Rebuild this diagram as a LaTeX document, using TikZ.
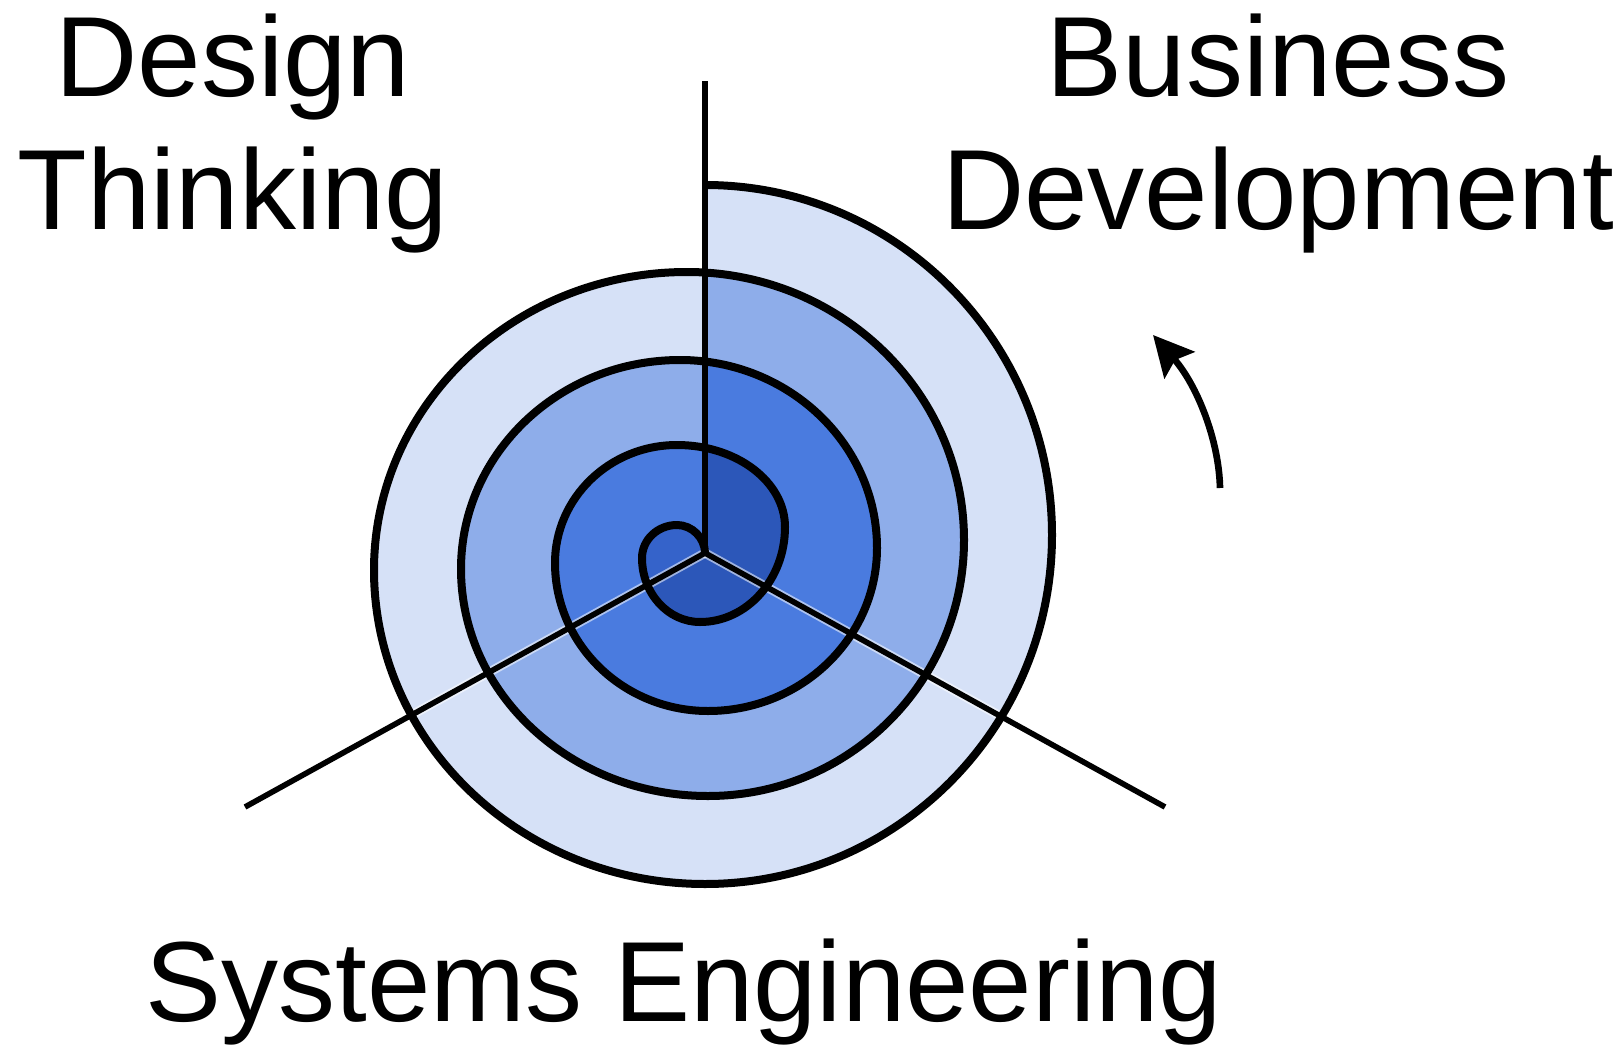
\documentclass[tikz,border=0pt]{standalone}
\usepackage{fontspec}
\setmainfont{Liberation Sans}
\usepackage{tikz}
\usetikzlibrary{arrows.meta}
\definecolor{lapA}{HTML}{D6E1F7}
\definecolor{lapB}{HTML}{8EADEA}
\definecolor{lapC}{HTML}{4A7BDF}
\definecolor{lapD}{HTML}{2C57B9}
\definecolor{lapE}{HTML}{3563CA}

\begin{document}
\begin{tikzpicture}[x=0.75pt,y=0.75pt,yscale=-1,xscale=1,
    spiral/.style={line width=6pt},
    spoke/.style={line width=4.2pt},
    spokehalo/.style={white,opacity=0.55,line width=7pt},
    bigtext/.style={font=\fontsize{85.5}{99.75}\selectfont,inner sep=0.75pt,align=center}]
    %set diagram to the full reference size
    \useasboundingbox (0,0) rectangle (1621,1049);

    \coordinate (hub) at (705,553);
    \coordinate (hubtop) at (705,81);
    \coordinate (leftend) at (245,807);
    \coordinate (rightend) at (1165,807);

    %Lap 4: outer band
    \fill[lapA] (687,272) arc[start angle=270,end angle=180,x radius=313,y radius=298] arc[start angle=180,end angle=90,x radius=331,y radius=314] arc[start angle=90,end angle=0,x radius=347,y radius=349] arc[start angle=360,end angle=270,x radius=347,y radius=350] -- (705,185) -- (705,272) -- cycle;
    %Lap 3
    \fill[lapB] (680,360) arc[start angle=270,end angle=180,x radius=219,y radius=209] arc[start angle=180,end angle=90,x radius=247,y radius=227] arc[start angle=90,end angle=0,x radius=256,y radius=256] arc[start angle=360,end angle=270,x radius=277,y radius=268] -- (705,272) -- (705,360) -- cycle;
    %Lap 2
    \fill[lapC] (677,445) arc[start angle=270,end angle=180,x radius=122,y radius=118] arc[start angle=180,end angle=90,x radius=153,y radius=148] arc[start angle=90,end angle=0,x radius=169,y radius=163] arc[start angle=360,end angle=270,x radius=197,y radius=188] -- (705,360) -- (705,445) -- cycle;
    %Lap 1: core
    \fill[lapD] (hub) .. controls (705,538) and (692,525) .. (677,525) arc[start angle=270,end angle=180,x radius=35,y radius=33] arc[start angle=180,end angle=90,x radius=58,y radius=64] arc[start angle=90,end angle=0,x radius=85,y radius=95] arc[start angle=360,end angle=270,x radius=108,y radius=82] -- (705,445) -- cycle;
    %Lap 0: inside the small loop
    \fill[lapE] (hub) .. controls (705,538) and (692,525) .. (677,525) arc[start angle=270,end angle=180,x radius=35,y radius=33] arc[start angle=180,end angle=155,x radius=58,y radius=64] -- cycle;

    %Spokes: light edges
    \draw[spokehalo] (hub) -- (leftend);
    \draw[spokehalo] (hub) -- (rightend);

    %Spiral
    \draw[spiral] (hub) .. controls (705,538) and (692,525) .. (677,525)
        arc[start angle=270,end angle=180,x radius=35,y radius=33] arc[start angle=180,end angle=90,x radius=58,y radius=64] arc[start angle=90,end angle=0,x radius=85,y radius=95] arc[start angle=360,end angle=270,x radius=108,y radius=82]
        arc[start angle=270,end angle=180,x radius=122,y radius=118] arc[start angle=180,end angle=90,x radius=153,y radius=148] arc[start angle=90,end angle=0,x radius=169,y radius=163] arc[start angle=360,end angle=270,x radius=197,y radius=188]
        arc[start angle=270,end angle=180,x radius=219,y radius=209] arc[start angle=180,end angle=90,x radius=247,y radius=227] arc[start angle=90,end angle=0,x radius=256,y radius=256] arc[start angle=360,end angle=270,x radius=277,y radius=268]
        arc[start angle=270,end angle=180,x radius=313,y radius=298] arc[start angle=180,end angle=90,x radius=331,y radius=314] arc[start angle=90,end angle=0,x radius=347,y radius=349] arc[start angle=360,end angle=270,x radius=347,y radius=350];

    %Spokes
    \draw[spoke,line width=4.8pt] (hub) -- (hubtop);
    \draw[spoke] (hub) -- (leftend);
    \draw[spoke] (hub) -- (rightend);

    %Arrow
    \coordinate (turnfrom) at (1220,488);
    \coordinate (turnto) at (1153,335);
    \draw[line width=5pt,-{Stealth[length=30pt,width=30pt,inset=5pt]}] (turnfrom) .. controls (1219,440) and (1197,385) .. (turnto);

    % Text Node
    \draw (233,229) node (design) [anchor=base][bigtext] {Design\\Thinking};
    % Text Node
    \draw (1278,229) node (business) [anchor=base][bigtext] {Business\\Development};
    % Text Node
    \draw (684,1021) node (systems) [anchor=base][bigtext] {Systems Engineering};
\end{tikzpicture}
\end{document}
